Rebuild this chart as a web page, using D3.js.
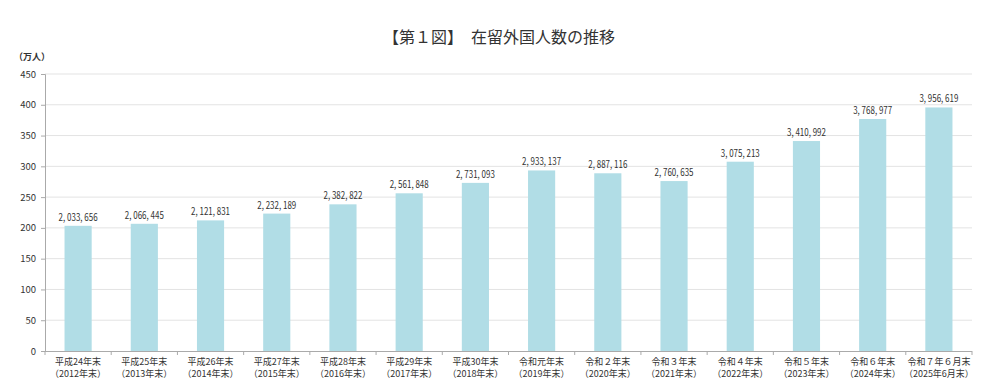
<!DOCTYPE html>
<html><head><meta charset="utf-8">
<script src="https://cdn.jsdelivr.net/npm/d3@7"></script>
<style>
body{margin:0;background:#fff;}
text{font-family:"Noto Sans CJK JP","Noto Sans",sans-serif;}
</style></head>
<body><svg id="c" width="1000" height="387"></svg>
<script>
const categoriesTop = ["平成24年末","平成25年末","平成26年末","平成27年末","平成28年末","平成29年末","平成30年末","令和元年末","令和２年末","令和３年末","令和４年末","令和５年末","令和６年末","令和７年６月末"];
const categoriesBottom = ["（2012年末）","（2013年末）","（2014年末）","（2015年末）","（2016年末）","（2017年末）","（2018年末）","（2019年末）","（2020年末）","（2021年末）","（2022年末）","（2023年末）","（2024年末）","（2025年6月末）"];
const values = [2033656,2066445,2121831,2232189,2382822,2561848,2731093,2933137,2887116,2760635,3075213,3410992,3768977,3956619];
const yTicks = [0,50,100,150,200,250,300,350,400,450];
const title = "【第１図】　在留外国人数の推移";
const unit = "（万人）";

const svg = d3.select("#c");
const L = 45, R = 972, T = 74, B = 351;
const x = d3.scaleBand().domain(d3.range(values.length)).range([L,R]).paddingInner(0.59).paddingOuter(0.295);
const y = d3.scaleLinear().domain([0,450]).range([B,T]);

svg.append("text").attr("x",499).attr("y",43).attr("text-anchor","middle")
  .attr("font-size",16).attr("fill","#333").text(title);
svg.append("text").attr("x",14).attr("y",60).attr("font-size",9).attr("font-weight","bold").attr("fill","#333").text(unit);

// grid
svg.append("g").selectAll("line").data(yTicks.filter(d=>d>0)).join("line")
  .attr("x1",L).attr("x2",R).attr("y1",d=>y(d)).attr("y2",d=>y(d))
  .attr("stroke","#e3e3e3").attr("stroke-width",1);

// y axis
const ya = svg.append("g").attr("transform",`translate(${L},0)`)
  .call(d3.axisLeft(y).tickValues(yTicks).tickSize(4).tickPadding(5));
ya.select(".domain").attr("stroke","#aaa");
ya.selectAll(".tick line").attr("stroke","#aaa");
ya.selectAll("text").attr("font-size",9.5).attr("fill","#333").attr("font-family","'DejaVu Sans Condensed','Roboto',sans-serif");

// bars
svg.append("g").selectAll("rect").data(values).join("rect")
  .attr("x",(d,i)=>x(i)).attr("width",x.bandwidth())
  .attr("y",d=>y(d/10000)).attr("height",d=>B-y(d/10000))
  .attr("fill","#b1dde6");

// value labels
svg.append("g").selectAll("text").data(values).join("text")
  .attr("x",(d,i)=>x(i)+x.bandwidth()/2).attr("y",d=>y(d/10000)-5)
  .attr("text-anchor","middle").attr("font-size",10).attr("fill","#333")
  .attr("font-family","'DejaVu Sans Condensed','Roboto',sans-serif")
  .attr("textLength",39).attr("lengthAdjust","spacingAndGlyphs")
  .text(d=>d3.format(",")(d).replace(/,/g,", "));

// x axis
const step = x.step();
svg.append("line").attr("x1",L).attr("x2",R).attr("y1",B+0.5).attr("y2",B+0.5).attr("stroke","#aaa");
svg.append("g").selectAll("line").data(d3.range(values.length+1)).join("line")
  .attr("x1",i=>L+i*step).attr("x2",i=>L+i*step).attr("y1",B).attr("y2",B+4).attr("stroke","#aaa");

const cl = svg.append("g").selectAll("text").data(d3.range(values.length)).join("text")
  .attr("text-anchor","middle").attr("font-size",9).attr("fill","#333");
cl.append("tspan").attr("x",i=>x(i)+x.bandwidth()/2).attr("y",365).text(i=>categoriesTop[i]);
cl.append("tspan").attr("x",i=>x(i)+x.bandwidth()/2).attr("y",377).text(i=>categoriesBottom[i]);
</script></body></html>
